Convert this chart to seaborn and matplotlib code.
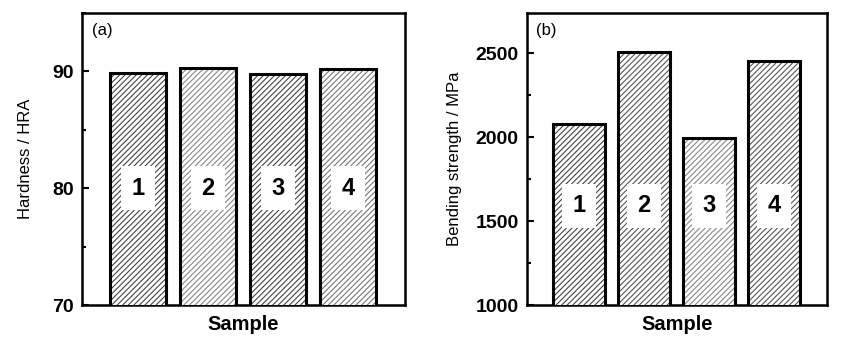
import matplotlib
matplotlib.use("Agg")
import matplotlib.pyplot as plt
import seaborn as sns
import pandas as pd
from matplotlib.ticker import MultipleLocator

samples = ["1", "2", "3", "4"]
hardness = [89.83, 90.28, 89.77, 90.17]
bending = [2077, 2508, 1996, 2452]
hatch_colors_a = ["#444444", "#888888", "#444444", "#777777"]
hatch_colors_b = ["#444444", "#555555", "#888888", "#555555"]

sns.set_theme(style="white")
plt.rcParams["font.family"] = ["Liberation Sans", "DejaVu Sans"]
plt.rcParams["hatch.linewidth"] = 0.8
plt.rcParams["text.color"] = "black"
plt.rcParams["axes.labelcolor"] = "black"
plt.rcParams["xtick.color"] = "black"
plt.rcParams["ytick.color"] = "black"

fig = plt.figure(figsize=(8.44, 3.5), dpi=100)
ax1 = fig.add_axes([82/844, 1 - 305/350, 323/844, 292/350])
ax2 = fig.add_axes([527/844, 1 - 305/350, 300/844, 292/350])


def draw(ax, values, ylim, major, minor, ylabel, tag, label_y, hcolors, ylpad):
    df = pd.DataFrame({"Sample": samples, "v": values})
    sns.barplot(data=df, x="Sample", y="v", ax=ax, width=0.8, color="white",
                edgecolor="black", linewidth=2, errorbar=None, zorder=3)
    for p, hc in zip(ax.patches, hcolors):
        p.set_facecolor("white")
        p.set_hatch("//////")
        p.set_edgecolor(hc)
        p.set_linewidth(0)
        x, w = p.get_x(), p.get_width()
        y0, h = p.get_y(), p.get_height()
        ax.add_patch(plt.Rectangle((x, y0), w, h, fill=False, edgecolor="black",
                                   linewidth=2.2, zorder=4))
    ax.set_ylim(*ylim)
    ax.set_xlim(-0.8, 3.81)
    ax.yaxis.set_major_locator(MultipleLocator(major))
    ax.yaxis.set_minor_locator(MultipleLocator(minor))
    ax.tick_params(axis="y", which="major", direction="in", length=5, width=1.5,
                   labelsize=14, left=True, pad=6, colors="black")
    ax.tick_params(axis="y", which="minor", direction="in", length=3, width=1.5, left=True)
    ax.tick_params(axis="x", which="major", direction="in", length=4, width=1.5,
                   bottom=True, labelbottom=False)
    for lab in ax.get_yticklabels():
        lab.set_fontweight("bold")
    for s in ax.spines.values():
        s.set_linewidth(1.8)
        s.set_color("black")
    ax.set_xlabel("Sample", fontsize=14.5, fontweight="bold", labelpad=7, color="black")
    ax.set_ylabel(ylabel, fontsize=12, labelpad=ylpad, color="black")
    ax.text(0.03, 0.965, tag, transform=ax.transAxes, fontsize=12, va="top", ha="left",
            color="black")
    for i, s in enumerate(samples):
        ax.text(i, label_y, s, ha="center", va="center", fontsize=17, fontweight="bold",
                color="black", zorder=6,
                bbox=dict(boxstyle="square,pad=0.45", fc="white", ec="none"))


draw(ax1, hardness, (70, 95), 10, 5, "Hardness / HRA", "(a)", 80.0, hatch_colors_a, 14)
draw(ax2, bending, (1000, 2740), 500, 250, "Bending strength / MPa", "(b)", 1590, hatch_colors_b, 10)

fig.savefig("out.png", dpi=100)
